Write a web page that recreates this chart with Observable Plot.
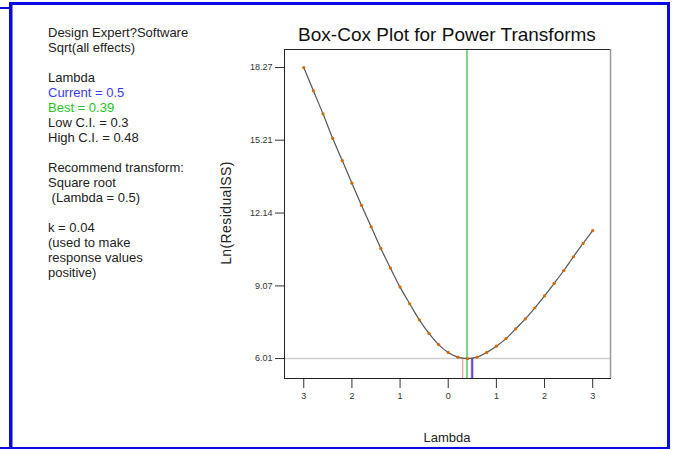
<!DOCTYPE html>
<html><head><meta charset="utf-8">
<script src="https://cdn.jsdelivr.net/npm/d3@7"></script>
<script src="https://cdn.jsdelivr.net/npm/@observablehq/plot@0.6"></script>
<style>
body{margin:0;background:#fff;font-family:"Liberation Sans",Arial,sans-serif;}
#wrap{position:relative;width:673px;height:449px;overflow:hidden;background:#fff;}
.b{position:absolute;background:#0a0ae6;}
#chart{position:absolute;left:0;top:0;}
#info{position:absolute;left:48px;top:25px;font-size:13px;line-height:15px;color:#222;white-space:pre;}
#title{position:absolute;left:274px;width:346px;top:24px;text-align:center;font-size:19px;color:#111;}
#ylab{position:absolute;left:156px;width:140px;height:16px;line-height:16px;top:205px;text-align:center;transform:rotate(-90deg);font-size:14px;letter-spacing:0.4px;color:#222;white-space:nowrap;}
#xlab{position:absolute;left:447px;top:430px;transform:translateX(-50%);font-size:13px;color:#222;}
</style></head><body>
<div id="wrap">
  <div id="chart"></div>
  <div class="b" style="left:9px;top:2px;width:3px;height:447px"></div>
  <div style="position:absolute;left:12px;top:2px;width:1px;height:447px;background:#8888aa"></div>
  <div class="b" style="left:10px;top:2px;width:659px;height:3px"></div>
  <div class="b" style="left:0px;top:7px;width:9px;height:2px"></div>
  <div class="b" style="left:667px;top:2px;width:3px;height:447px"></div>
  <div class="b" style="left:0px;top:447px;width:670px;height:2px"></div>
  <div id="info"></div>
  <div id="title">Box-Cox Plot for Power Transforms</div>
  <div id="ylab">Ln(ResidualSS)</div>
  <div id="xlab">Lambda</div>
</div>
<script>
const lambda = [-3.0,-2.8,-2.6,-2.4,-2.2,-2.0,-1.8,-1.6,-1.4,-1.2,-1.0,-0.8,-0.6,-0.4,-0.2,0.0,0.2,0.4,0.6,0.8,1.0,1.2,1.4,1.6,1.8,2.0,2.2,2.4,2.6,2.8,3.0];
const lnResidualSS = [18.27,17.29,16.32,15.29,14.35,13.40,12.46,11.56,10.65,9.82,9.02,8.32,7.64,7.07,6.60,6.27,6.07,6.01,6.07,6.27,6.53,6.85,7.26,7.68,8.15,8.65,9.18,9.72,10.30,10.86,11.40];
const yTicks = [6.01, 9.07, 12.14, 15.21, 18.27];
const yTickLabels = ["6.01", "9.07", "12.14", "15.21", "18.27"];
const xTicks = [-3, -2, -1, 0, 1, 2, 3];
const xTickLabels = ["3", "2", "1", "0", "1", "2", "3"];
const xDomain = [-3.4, 3.37];
const yDomain = [5.17, 19.03];
const current = 0.5, best = 0.39, lowCI = 0.3, highCI = 0.48;
const minLn = 6.01;
const infoLines = [
  {t: "Design Expert?Software", c: "#222"},
  {t: "Sqrt(all effects)", c: "#222"},
  {t: "", c: "#222"},
  {t: "Lambda", c: "#222"},
  {t: "Current = 0.5", c: "#3a3aff"},
  {t: "Best = 0.39", c: "#22c322"},
  {t: "Low C.I. = 0.3", c: "#222"},
  {t: "High C.I. = 0.48", c: "#222"},
  {t: "", c: "#222"},
  {t: "Recommend transform:", c: "#222"},
  {t: "Square root", c: "#222"},
  {t: " (Lambda = 0.5)", c: "#222"},
  {t: "", c: "#222"},
  {t: "k = 0.04", c: "#222"},
  {t: "(used to make", c: "#222"},
  {t: "response values", c: "#222"},
  {t: "positive)", c: "#222"}
];

const info = document.getElementById("info");
infoLines.forEach(l => {
  const d = document.createElement("div");
  d.textContent = l.t || "\u00a0";
  d.style.color = l.c;
  info.appendChild(d);
});

const data = lambda.map((x, i) => ({x, y: lnResidualSS[i]}));

const chart = Plot.plot({
  width: 673,
  height: 449,
  marginLeft: 284,
  marginRight: 63,
  marginTop: 49,
  marginBottom: 71,
  style: {fontFamily: "'Liberation Sans', Arial, sans-serif", fontSize: "9px", color: "#333", background: "transparent"},
  x: {domain: xDomain, ticks: xTicks, tickSize: 10, tickPadding: 4, label: null,
      tickFormat: d => xTickLabels[xTicks.indexOf(d)]},
  y: {domain: yDomain, ticks: yTicks, tickSize: 9, tickPadding: 3, label: null,
      tickFormat: d => yTickLabels[yTicks.indexOf(d)]},
  marks: [
    Plot.ruleY([minLn], {stroke: "#cfcfcf", strokeWidth: 1.5}),
    Plot.ruleX([best], {stroke: "#3cbf3c", strokeWidth: 1.3}),
    Plot.ruleX([lowCI], {y1: yDomain[0], y2: minLn, stroke: "#f0a0a0", strokeWidth: 1.3}),
    Plot.ruleX([highCI], {y1: yDomain[0], y2: minLn, stroke: "#f0a0a0", strokeWidth: 1.3}),
    Plot.ruleX([current], {y1: yDomain[0], y2: minLn, stroke: "#6a48e0", strokeWidth: 2}),
    Plot.line(data, {x: "x", y: "y", stroke: "#555", strokeWidth: 1.2, curve: "catmull-rom"}),
    Plot.dot(data, {x: "x", y: "y", r: 1.6, fill: "#d26a00", stroke: null}),
    Plot.frame({stroke: "#222"}),
    Plot.ruleX([xDomain[1]], {stroke: "#999", strokeWidth: 1.5})
  ]
});
document.getElementById("chart").appendChild(chart);
</script>
</body></html>
